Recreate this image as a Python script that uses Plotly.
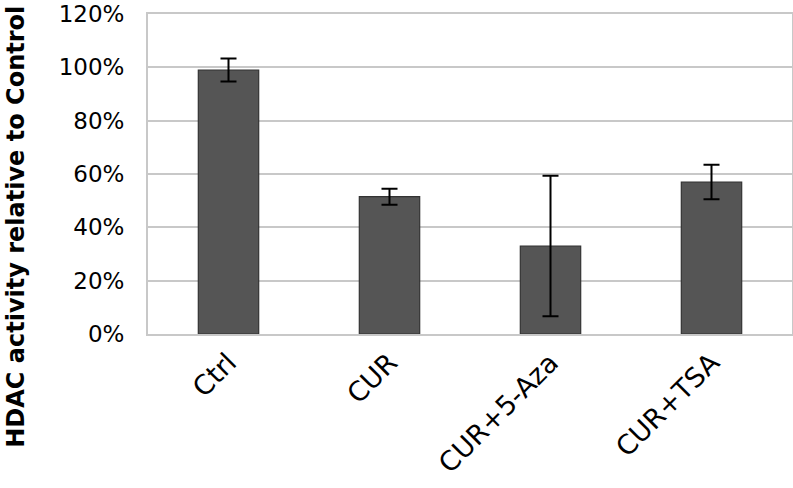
import plotly.graph_objects as go

categories = ["Ctrl", "CUR", "CUR+5-Aza", "CUR+TSA"]
values = [99.0, 51.5, 33.0, 57.0]
errors = [4.3, 3.0, 26.3, 6.5]
y_ticks = [0, 20, 40, 60, 80, 100, 120]
y_ticklabels = ["0%", "20%", "40%", "60%", "80%", "100%", "120%"]
y_title = "HDAC activity relative to Control"

fig = go.Figure()
fig.add_trace(go.Bar(
    x=categories, y=values,
    marker=dict(color="#555555", line=dict(color="#333333", width=1.2)),
    width=0.375,
    error_y=dict(type="data", array=errors, visible=True, color="#000000",
                 thickness=2, width=8),
))

fig.update_layout(
    width=793, height=488, autosize=False,
    margin=dict(l=148, r=1, t=14, b=154),
    paper_bgcolor="white", plot_bgcolor="white",
    showlegend=False,
    font=dict(family="DejaVu Sans", color="#000000"),
    xaxis=dict(
        tickangle=-45, tickfont=dict(size=27, family="DejaVu Sans"),
        showline=True, linecolor="#c8c8c8", linewidth=2, mirror=True,
        showgrid=False, ticks="", automargin=False,
    ),
    yaxis=dict(
        range=[0, 120], tickvals=y_ticks, ticktext=y_ticklabels,
        tickfont=dict(size=23, family="DejaVu Sans"),
        showgrid=True, gridcolor="#c8c8c8", gridwidth=2,
        showline=True, linecolor="#c8c8c8", linewidth=2, mirror=True,
        ticks="", ticklabelstandoff=17, zeroline=False,
        ticklabeloverflow="allow", automargin=False,
    ),
    annotations=[dict(
        text="<b>" + y_title + "</b>", textangle=-90,
        xref="paper", yref="paper", x=-0.205, y=0.335,
        xanchor="center", yanchor="middle", showarrow=False,
        font=dict(size=24, family="DejaVu Sans", color="#000000"),
    )],
)

fig.write_html(
    "out.html",
    config={"responsive": False, "displayModeBar": False},
    post_script="document.body.style.margin='0';document.body.style.overflow='hidden';",
)
